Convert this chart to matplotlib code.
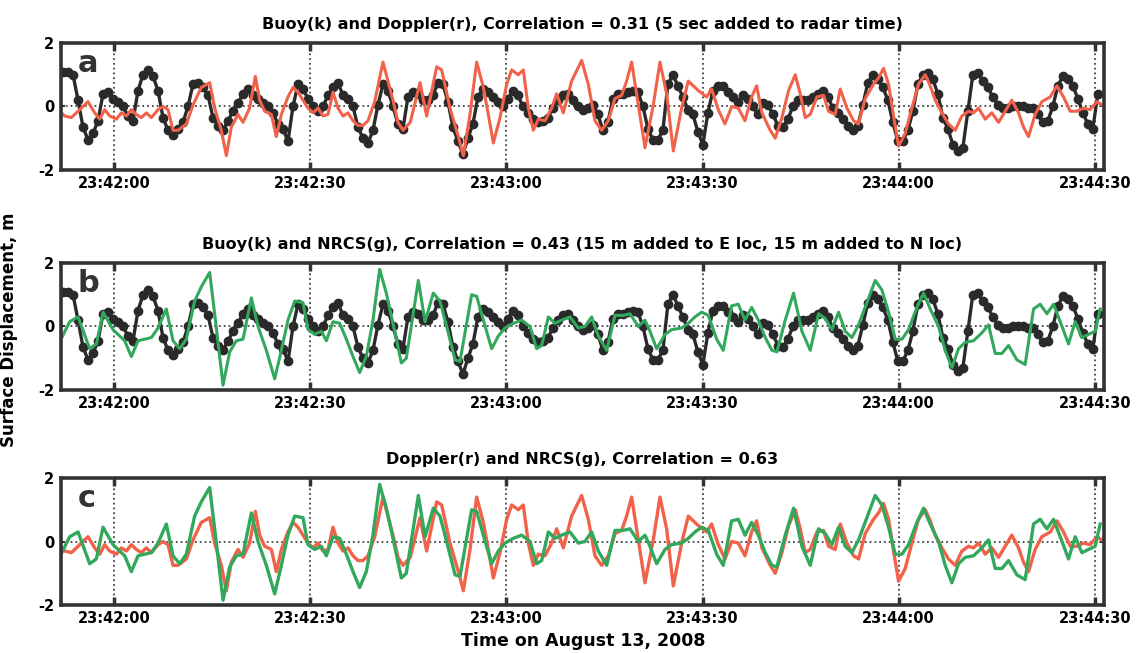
import matplotlib
matplotlib.use("Agg")
from matplotlib import pyplot as plt
import matplotlib.dates as mdates
from datetime import datetime, timedelta

plt.rcParams["font.family"] = ["DejaVu Sans"]
plt.rcParams["font.weight"] = "bold"
plt.rcParams["axes.unicode_minus"] = False

# time origin: 23:42:00 on August 13, 2008 (series times are seconds from it)
base = datetime(2008, 8, 13, 23, 42, 0)

# Buoy: regular samples, first at -7.8 s, step 0.7645 s
buoy_t0 = -7.8
buoy_dt = 0.7645
buoy_v = [
    1.1, 1.1, 1.0, 0.2, -0.65, -1.05, -0.85, -0.45, 0.4, 0.45,
    0.25, 0.15, 0.0, -0.3, -0.45, 0.5, 1.0, 1.15, 0.95, 0.5,
    -0.35, -0.75, -0.9, -0.7, -0.5, 0.0, 0.7, 0.75, 0.6, 0.35,
    -0.35, -0.6, -0.75, -0.45, -0.15, 0.1, 0.4, 0.55, 0.35, 0.25,
    0.1, 0.0, -0.2, -0.55, -0.7, -1.1, 0.0, 0.7, 0.55, 0.25,
    0.0, -0.15, 0.0, 0.35, 0.6, 0.75, 0.35, 0.25, 0.0, -0.65,
    -1.0, -1.15, -0.75, 0.05, 0.7, 0.5, 0.0, -0.55, -0.7, 0.3,
    0.45, 0.4, 0.2, 0.2, 0.35, 0.75, 0.7, 0.15, -0.65, -1.1,
    -1.5, -1.0, -0.55, 0.3, 0.55, 0.45, 0.3, 0.15, 0.0, 0.25,
    0.5, 0.35, 0.0, -0.2, -0.4, -0.5, -0.45, -0.35, -0.05, 0.2,
    0.35, 0.4, 0.2, 0.0, -0.1, -0.05, 0.05, -0.25, -0.75, -0.5,
    0.25, 0.4, 0.4, 0.45, 0.5, 0.45, 0.0, -0.7, -1.05, -1.05,
    -0.75, 0.7, 1.0, 0.65, 0.3, -0.1, -0.25, -0.8, -1.2, -0.2,
    0.5, 0.65, 0.65, 0.45, 0.3, 0.15, 0.35, 0.25, 0.0, -0.25,
    0.1, 0.05, -0.25, -0.6, -0.65, -0.4, 0.0, 0.2, 0.2, 0.2,
    0.3, 0.4, 0.5, 0.3, -0.05, -0.2, -0.4, -0.6, -0.75, -0.6,
    0.05, 0.75, 1.0, 0.85, 0.6, 0.2, -0.5, -1.1, -1.1, -0.75,
    -0.15, 0.7, 1.0, 1.05, 0.85, 0.4, -0.35, -0.7, -1.2, -1.4,
    -1.3, -0.15, 1.0, 1.05, 0.8, 0.6, 0.3, 0.05, -0.05, -0.05,
    0.0, 0.0, 0.0, -0.05, -0.05, -0.25, -0.5, -0.45, 0.0, 0.65,
    0.95, 0.85, 0.65, 0.25, -0.2, -0.55, -0.7, 0.4,
]
buoy_t = [buoy_t0 + buoy_dt * i for i in range(len(buoy_v))]

# Doppler (radar) displacement
doppler_t = [
    -8.05, -7.54, -6.52, -5.5, -3.98, -2.96, -2.19, -1.43, -0.66, 0.36,
    1.12, 1.89, 2.65, 3.41, 4.18, 4.94, 5.71, 6.73, 7.49, 8.26,
    9.02, 9.79, 11.06, 12.08, 13.35, 14.63, 15.39, 16.41, 17.18, 17.94,
    18.96, 19.73, 20.74, 21.61, 22.27, 23.04, 24.06, 24.82, 25.59, 26.6,
    27.37, 28.13, 28.9, 29.66, 30.43, 31.19, 31.96, 32.72, 33.49, 34.25,
    35.02, 35.78, 36.55, 37.31, 38.07, 38.84, 39.86, 41.13, 41.9, 42.66,
    43.43, 44.19, 45.3, 46.79, 47.81, 49.34, 50.11, 51.38, 52.66, 53.42,
    54.44, 55.46, 56.48, 57.24, 58.01, 59.03, 60.05, 60.81, 61.83, 62.59,
    63.36, 64.12, 64.89, 65.91, 66.93, 67.69, 68.71, 69.98, 71.51, 72.53,
    73.55, 74.57, 75.59, 76.61, 77.63, 78.39, 79.16, 80.18, 81.2, 82.47,
    83.49, 84.51, 85.53, 86.8, 87.82, 89.35, 90.63, 91.39, 92.41, 93.43,
    94.45, 95.47, 96.49, 97.51, 98.27, 99.08, 100.35, 101.12, 102.14, 103.16,
    104.18, 104.94, 105.7, 106.47, 107.49, 108.51, 109.27, 110.29, 111.06, 112.08,
    113.1, 113.86, 114.88, 116.15, 116.92, 117.68, 118.45, 119.21, 119.98, 121.0,
    122.01, 123.03, 124.05, 124.82, 125.58, 126.6, 127.62, 128.64, 129.66, 130.68,
    131.44, 132.21, 133.23, 134.25, 135.27, 136.29, 137.3, 138.32, 139.09, 139.85,
    140.87, 141.89, 143.17, 144.19, 145.21, 146.23, 147.25, 148.26, 149.28, 150.3,
    151.07,
]
doppler_v = [
    -0.2, -0.3, -0.35, -0.15, 0.15, -0.2, -0.4, -0.1, -0.3, -0.4,
    -0.2, -0.3, -0.1, -0.25, -0.35, -0.2, -0.35, -0.1, 0.0, -0.1,
    -0.75, -0.75, -0.55, 0.05, 0.6, 0.75, -0.05, -0.75, -1.55, -0.65,
    -0.25, -0.5, -0.05, 0.95, 0.2, -0.15, -0.25, -0.95, -0.25, 0.3,
    0.6, 0.45, 0.2, -0.05, -0.2, -0.05, -0.3, -0.25, 0.45, -0.05,
    -0.3, -0.2, -0.45, -0.6, -0.6, -0.45, 0.15, 1.4, 0.8, 0.2,
    -0.5, -0.75, -0.5, 0.75, -0.3, 1.25, 1.15, -0.05, -0.95, -1.55,
    -0.25, 1.4, 0.6, -0.25, -1.15, -0.35, 0.7, 1.15, 1.0, 1.15,
    -0.05, -0.75, -0.4, -0.45, -0.05, 0.4, -0.2, 0.8, 1.45, 0.7,
    -0.45, -0.75, -0.45, 0.25, 0.35, 0.8, 1.4, 0.05, -1.3, 0.05,
    1.4, 0.4, -1.4, -0.05, 0.8, 0.5, 0.3, 0.55, -0.1, -0.55,
    0.0, -0.05, -0.45, 0.3, 0.65, -0.2, -0.75, -1.0, -0.35, 0.5,
    1.0, 0.4, -0.35, -0.25, 0.3, 0.35, -0.15, -0.25, 0.55, -0.05,
    -0.45, -0.55, 0.25, 0.7, 0.9, 1.2, 0.7, -0.3, -1.25, -0.85,
    -0.05, 0.7, 1.0, 0.65, 0.2, -0.2, -0.55, -0.75, -0.3, -0.15,
    -0.2, -0.05, -0.4, -0.2, -0.5, -0.15, 0.2, -0.2, -0.65, -0.95,
    -0.25, 0.15, 0.3, 0.65, 0.3, -0.15, -0.15, -0.05, -0.1, 0.15,
    0.05,
]

# NRCS displacement
nrcs_t = [
    -8.1, -6.78, -5.5, -3.72, -2.7, -1.68, -0.15, 1.63, 2.65, 3.67,
    4.69, 5.71, 6.73, 8.0, 9.02, 10.04, 11.06, 12.33, 13.35, 14.63,
    15.65, 16.67, 17.69, 18.71, 19.73, 21.0, 22.02, 23.29, 24.57, 25.59,
    26.6, 27.63, 28.9, 29.66, 30.68, 31.7, 32.47, 33.49, 34.51, 35.53,
    36.55, 37.56, 38.58, 39.6, 40.62, 41.64, 42.66, 43.94, 44.7, 46.54,
    47.56, 48.83, 49.85, 50.87, 52.15, 52.91, 54.69, 55.46, 56.48, 57.75,
    58.77, 59.79, 61.06, 62.34, 63.61, 64.63, 65.4, 66.42, 67.44, 68.46,
    69.73, 71.0, 72.02, 73.04, 74.06, 75.34, 76.61, 77.88, 78.9, 80.18,
    81.2, 81.96, 82.98, 84.26, 85.28, 86.8, 87.82, 88.84, 89.86, 90.88,
    92.16, 93.17, 94.45, 95.47, 96.49, 97.51, 98.53, 99.59, 100.61, 101.37,
    102.65, 103.92, 105.2, 106.47, 107.74, 108.76, 109.78, 110.8, 111.82, 112.84,
    113.86, 115.13, 116.41, 117.43, 118.45, 119.47, 120.49, 121.51, 122.78, 123.8,
    124.82, 126.09, 127.11, 128.13, 129.15, 130.17, 131.44, 132.72, 133.74, 134.76,
    135.78, 136.8, 138.07, 139.34, 140.62, 141.64, 142.66, 143.68, 144.7, 145.97,
    146.99, 148.01, 149.03, 150.05, 150.81,
]
nrcs_v = [
    -0.4, 0.15, 0.3, -0.7, -0.55, 0.45, -0.1, -0.45, -0.95, -0.45,
    -0.4, -0.35, -0.05, 0.55, -0.45, -0.7, -0.4, 0.8, 1.25, 1.7,
    -0.05, -1.85, -0.8, -0.45, -0.4, 0.9, 0.0, -0.75, -1.65, -0.75,
    0.2, 0.8, 0.75, -0.1, -0.25, -0.15, -0.45, 0.15, 0.1, -0.4,
    -0.95, -1.45, -0.95, 0.2, 1.8, 1.05, 0.1, -1.15, -1.0, 1.45,
    0.15, 1.05, 0.8, 0.0, -1.05, -1.1, 1.0, 0.95, 0.2, -0.7,
    -0.3, -0.05, 0.1, 0.2, 0.0, -0.7, -0.6, 0.3, 0.1, 0.2,
    0.3, -0.05, 0.0, 0.3, -0.3, -0.75, 0.35, 0.35, 0.4, 0.0,
    0.2, -0.15, -0.7, -0.25, -0.1, -0.05, 0.1, 0.3, 0.45, 0.35,
    -0.4, -0.75, 0.65, 0.7, 0.2, 0.6, 0.2, -0.35, -0.75, -0.8,
    0.2, 1.05, -0.15, -0.75, 0.4, 0.25, -0.1, 0.45, -0.15, -0.35,
    0.05, 0.75, 1.45, 1.15, 0.45, -0.4, -0.4, -0.1, 0.6, 1.05,
    0.55, 0.0, -0.75, -1.3, -0.7, -0.5, -0.45, -0.2, 0.05, -0.85,
    -0.85, -0.6, -1.05, -1.2, 0.55, 0.7, 0.4, 0.7, 0.15, -0.55,
    0.15, -0.35, -0.25, -0.15, 0.55,
]

titles = [
    "Buoy(k) and Doppler(r), Correlation = 0.31 (5 sec added to radar time)",
    "Buoy(k) and NRCS(g), Correlation = 0.43 (15 m added to E loc, 15 m added to N loc)",
    "Doppler(r) and NRCS(g), Correlation = 0.63",
]
letters = ["a", "b", "c"]


def to_time(secs):
    return [base + timedelta(seconds=s) for s in secs]


black = "#2a2a2a"
red = "#f2614a"
green = "#32a85c"

fig = plt.figure(figsize=(11.37, 6.53), dpi=100)
bottoms = [0.7397, 0.4028, 0.0735]
axes = [fig.add_axes([0.0537, b, 0.9173, 0.1945]) for b in bottoms]

# a: buoy + doppler
axes[0].plot(to_time(buoy_t), buoy_v, color=black, lw=2.4, marker="o", ms=6)
axes[0].plot(to_time(doppler_t), doppler_v, color=red, lw=2.2)
# b: buoy + nrcs
axes[1].plot(to_time(buoy_t), buoy_v, color=black, lw=2.4, marker="o", ms=6)
axes[1].plot(to_time(nrcs_t), nrcs_v, color=green, lw=2.2)
# c: doppler + nrcs
axes[2].plot(to_time(doppler_t), doppler_v, color=red, lw=2.4)
axes[2].plot(to_time(nrcs_t), nrcs_v, color=green, lw=2.4)

for ax, title, letter in zip(axes, titles, letters):
    ax.set_xlim(base - timedelta(seconds=8.1), base + timedelta(seconds=151.4))
    ax.set_ylim(-2, 2)
    ax.set_yticks([-2, 0, 2])
    ax.xaxis.set_major_locator(mdates.SecondLocator(bysecond=[0, 30]))
    ax.xaxis.set_major_formatter(mdates.DateFormatter("%H:%M:%S"))
    ax.tick_params(axis="x", direction="in", top=True, length=6, width=2.5,
                   color="#333333", labelsize=10.5, pad=4)
    ax.tick_params(axis="y", direction="in", right=True, length=3, width=1.5,
                   color="#333333", labelsize=10.5, pad=5)
    ax.grid(True, linestyle=":", color="#444444", linewidth=1.3)
    for s in ax.spines.values():
        s.set_linewidth(2.6)
        s.set_color("#333333")
    ax.set_title(title, fontsize=11.5, fontweight="bold", pad=10)
    ax.text(0.016, 0.77, letter, transform=ax.transAxes, fontsize=22,
            fontweight="bold", color="#333333", va="baseline")

fig.text(0.008, 0.495, "Surface Displacement, m", rotation=90, va="center",
         ha="center", fontsize=12, fontweight="bold")
fig.text(0.513, 0.018, "Time on August 13, 2008", ha="center", va="center",
         fontsize=12.5, fontweight="bold")

fig.savefig("out.png", dpi=100)
